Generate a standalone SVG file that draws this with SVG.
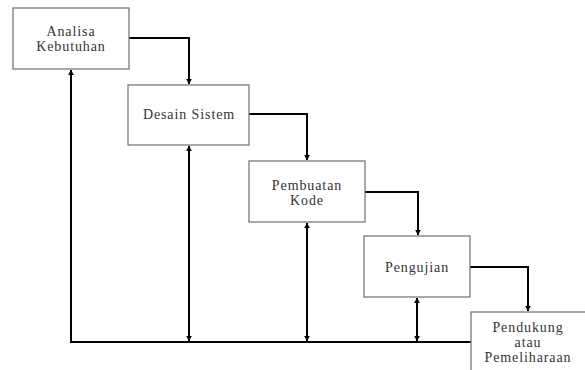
<svg xmlns="http://www.w3.org/2000/svg" width="585" height="370" viewBox="0 0 585 370">
<style>
.box{fill:#fff;stroke:#6e6e6e;stroke-width:1.2}
.t{font-family:"Liberation Serif","DejaVu Serif","Times New Roman",serif;font-size:14px;fill:#333;text-anchor:middle;letter-spacing:0.9px}
.c{fill:none;stroke:#000;stroke-width:2}
</style>
<defs>
<marker id="ah" viewBox="0 0 10 10" refX="9" refY="5" markerWidth="3" markerHeight="3" orient="auto-start-reverse" markerUnits="strokeWidth">
<path d="M0,0L10,5L0,10z" fill="#000"/>
</marker>
</defs>
<rect width="585" height="370" fill="#fff"/>
<g id="connectors">
<path class="c" d="M129,38H189V84" marker-end="url(#ah)"/>
<path class="c" d="M249,114H307V160" marker-end="url(#ah)"/>
<path class="c" d="M365,192H418V235" marker-end="url(#ah)"/>
<path class="c" d="M470,267H528V311" marker-end="url(#ah)"/>
<path class="c" d="M471,342H71V70" marker-end="url(#ah)"/>
<path class="c" d="M189,146V341" marker-start="url(#ah)" marker-end="url(#ah)"/>
<path class="c" d="M307,223V341" marker-start="url(#ah)" marker-end="url(#ah)"/>
<path class="c" d="M417,298V341" marker-start="url(#ah)" marker-end="url(#ah)"/>
</g>
<g id="analisa">
<rect class="box" x="13" y="8" width="116" height="61"/>
<text class="t" x="71" y="36">Analisa</text>
<text class="t" x="71" y="51">Kebutuhan</text>
</g>
<g id="desain">
<rect class="box" x="128" y="85" width="121" height="60"/>
<text class="t" x="189" y="119">Desain Sistem</text>
</g>
<g id="pembuatan">
<rect class="box" x="249" y="161" width="116" height="61"/>
<text class="t" x="307" y="190">Pembuatan</text>
<text class="t" x="307" y="205">Kode</text>
</g>
<g id="pengujian">
<rect class="box" x="364" y="236" width="106" height="61"/>
<text class="t" x="417" y="272">Pengujian</text>
</g>
<g id="pendukung">
<rect class="box" x="471" y="312" width="130" height="70"/>
<text class="t" x="528" y="332">Pendukung</text>
<text class="t" x="528" y="347">atau</text>
<text class="t" x="528" y="362">Pemeliharaan</text>
</g>
</svg>
